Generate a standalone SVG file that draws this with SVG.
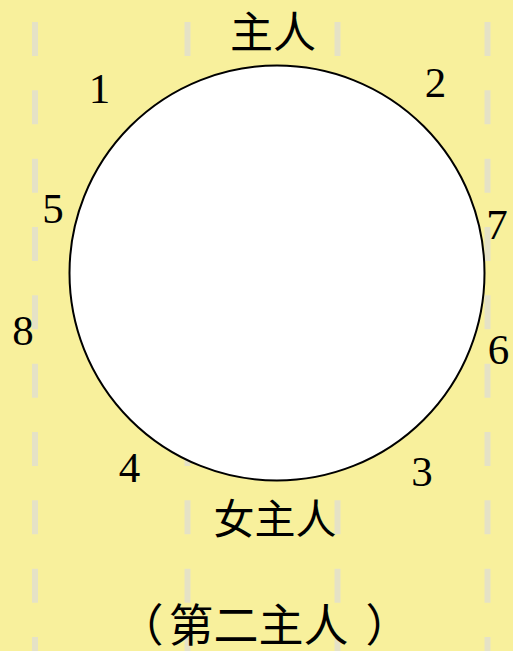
<svg xmlns="http://www.w3.org/2000/svg" width="513" height="651" viewBox="0 0 513 651">
<style>
.bg{fill:#F8F09C}
.dash{stroke:#E5E2C6;stroke-width:6;stroke-dasharray:34 34.33;fill:none}
.table{fill:#FFFFFF;stroke:#000000;stroke-width:2}
.num{font-family:"Liberation Serif","Noto Sans CJK SC",serif;font-size:43px;fill:#000;text-anchor:middle}
.cjk{font-family:"Liberation Serif","Noto Sans CJK SC",serif;fill:#000;text-anchor:middle}
.cjk.start{text-anchor:start}
</style>
<rect class="bg" x="0" y="0" width="513" height="651"/>
<g id="guides">
<line class="dash" x1="35" y1="22" x2="35" y2="651"/>
<line class="dash" x1="187.5" y1="22" x2="187.5" y2="651"/>
<line class="dash" x1="337.5" y1="22" x2="337.5" y2="651"/>
<line class="dash" x1="487.5" y1="22" x2="487.5" y2="651"/>
</g>
<g id="table"><circle class="table" cx="277" cy="273" r="207.5"/></g>
<g id="connectors"></g>
<g id="host"><text class="cjk" x="273" y="48" font-size="43">主人</text></g>
<g id="hostess"><text class="cjk" x="275" y="534" font-size="41">女主人</text></g>
<g id="second-host"><text class="cjk start" x="118.5" y="642" font-size="45"><tspan>（</tspan><tspan dx="5">第二主人</tspan><tspan dx="17">）</tspan></text></g>
<g id="seat-1"><text class="num" x="99.5" y="103">1</text></g>
<g id="seat-2"><text class="num" x="435.5" y="97">2</text></g>
<g id="seat-3"><text class="num" x="422" y="486">3</text></g>
<g id="seat-4"><text class="num" x="129.5" y="482">4</text></g>
<g id="seat-5"><text class="num" x="53" y="223">5</text></g>
<g id="seat-6"><text class="num" x="498.5" y="364">6</text></g>
<g id="seat-7"><text class="num" x="497" y="239">7</text></g>
<g id="seat-8"><text class="num" x="23" y="345">8</text></g>
</svg>
